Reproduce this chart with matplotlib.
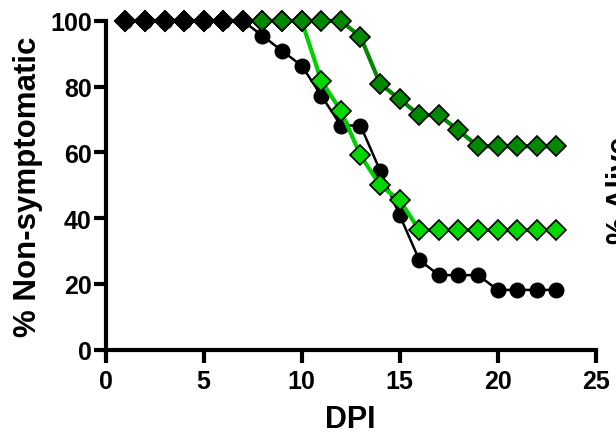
import matplotlib
matplotlib.use("Agg")
import matplotlib.pyplot as plt

plt.rcParams['font.family'] = ['Liberation Sans', 'DejaVu Sans']
plt.rcParams['font.weight'] = 'bold'

# days post infection
days = list(range(1, 24))
mock_days = list(range(1, 8))

# % non-symptomatic per group
mock_vals = [100] * 7
black_vals = [100, 100, 100, 100, 100, 100, 100, 95.5, 90.9, 86.4, 77.3, 68.2, 68.2,
              54.5, 40.9, 27.3, 22.7, 22.7, 22.7, 18.2, 18.2, 18.2, 18.2]
light_vals = [100, 100, 100, 100, 100, 100, 100, 100, 100, 100, 81.8, 72.7, 59.1,
              50.0, 45.5, 36.4, 36.4, 36.4, 36.4, 36.4, 36.4, 36.4, 36.4]
dark_vals = [100, 100, 100, 100, 100, 100, 100, 100, 100, 100, 100, 100, 95.2,
             80.9, 76.2, 71.4, 71.4, 66.7, 61.9, 61.9, 61.9, 61.9, 61.9]

x_ticks = [0, 5, 10, 15, 20, 25]
y_ticks = [0, 20, 40, 60, 80, 100]

fig = plt.figure(figsize=(6.16, 4.39), dpi=100)
ax = fig.add_axes([0.1716, 0.201, 0.7954, 0.749])

ax.plot(days, black_vals, color='black', lw=1.8, marker='o', ms=10.5,
        mfc='black', mec='black', zorder=3, clip_on=False)
ax.plot(days, light_vals, color='#00D000', lw=3, marker='D', ms=10,
        mfc='#00D800', mec='black', mew=1.2, zorder=4, clip_on=False)
ax.plot(days, dark_vals, color='#008800', lw=3, marker='D', ms=10,
        mfc='#008800', mec='black', mew=1.2, zorder=5, clip_on=False)
ax.plot(mock_days, mock_vals, color='black', lw=1.8, marker='D', ms=10,
        mfc='black', mec='black', mew=1.2, zorder=6, clip_on=False)

ax.set_xlim(0, 25)
ax.set_ylim(0, 100)
ax.set_xticks(x_ticks)
ax.set_yticks(y_ticks)

for s in ['top', 'right']:
    ax.spines[s].set_visible(False)
for s in ['left', 'bottom']:
    ax.spines[s].set_linewidth(3)

ax.tick_params(axis='both', width=3, length=9, labelsize=18)
ax.tick_params(axis='x', pad=5)
ax.tick_params(axis='y', pad=1)
for lab in ax.get_xticklabels() + ax.get_yticklabels():
    lab.set_fontweight('bold')

ax.set_xlabel('DPI', fontsize=22, fontweight='bold', labelpad=8)
ax.set_ylabel('% Non-symptomatic', fontsize=22.5, fontweight='bold', labelpad=5)

# neighbouring panel's label, cut off at the edge
fig.text(606 / 616, 1 - 244 / 439, '% Alive', rotation=90, fontsize=22,
         fontweight='bold', ha='left', va='bottom')

fig.savefig('out.png', dpi=100)
